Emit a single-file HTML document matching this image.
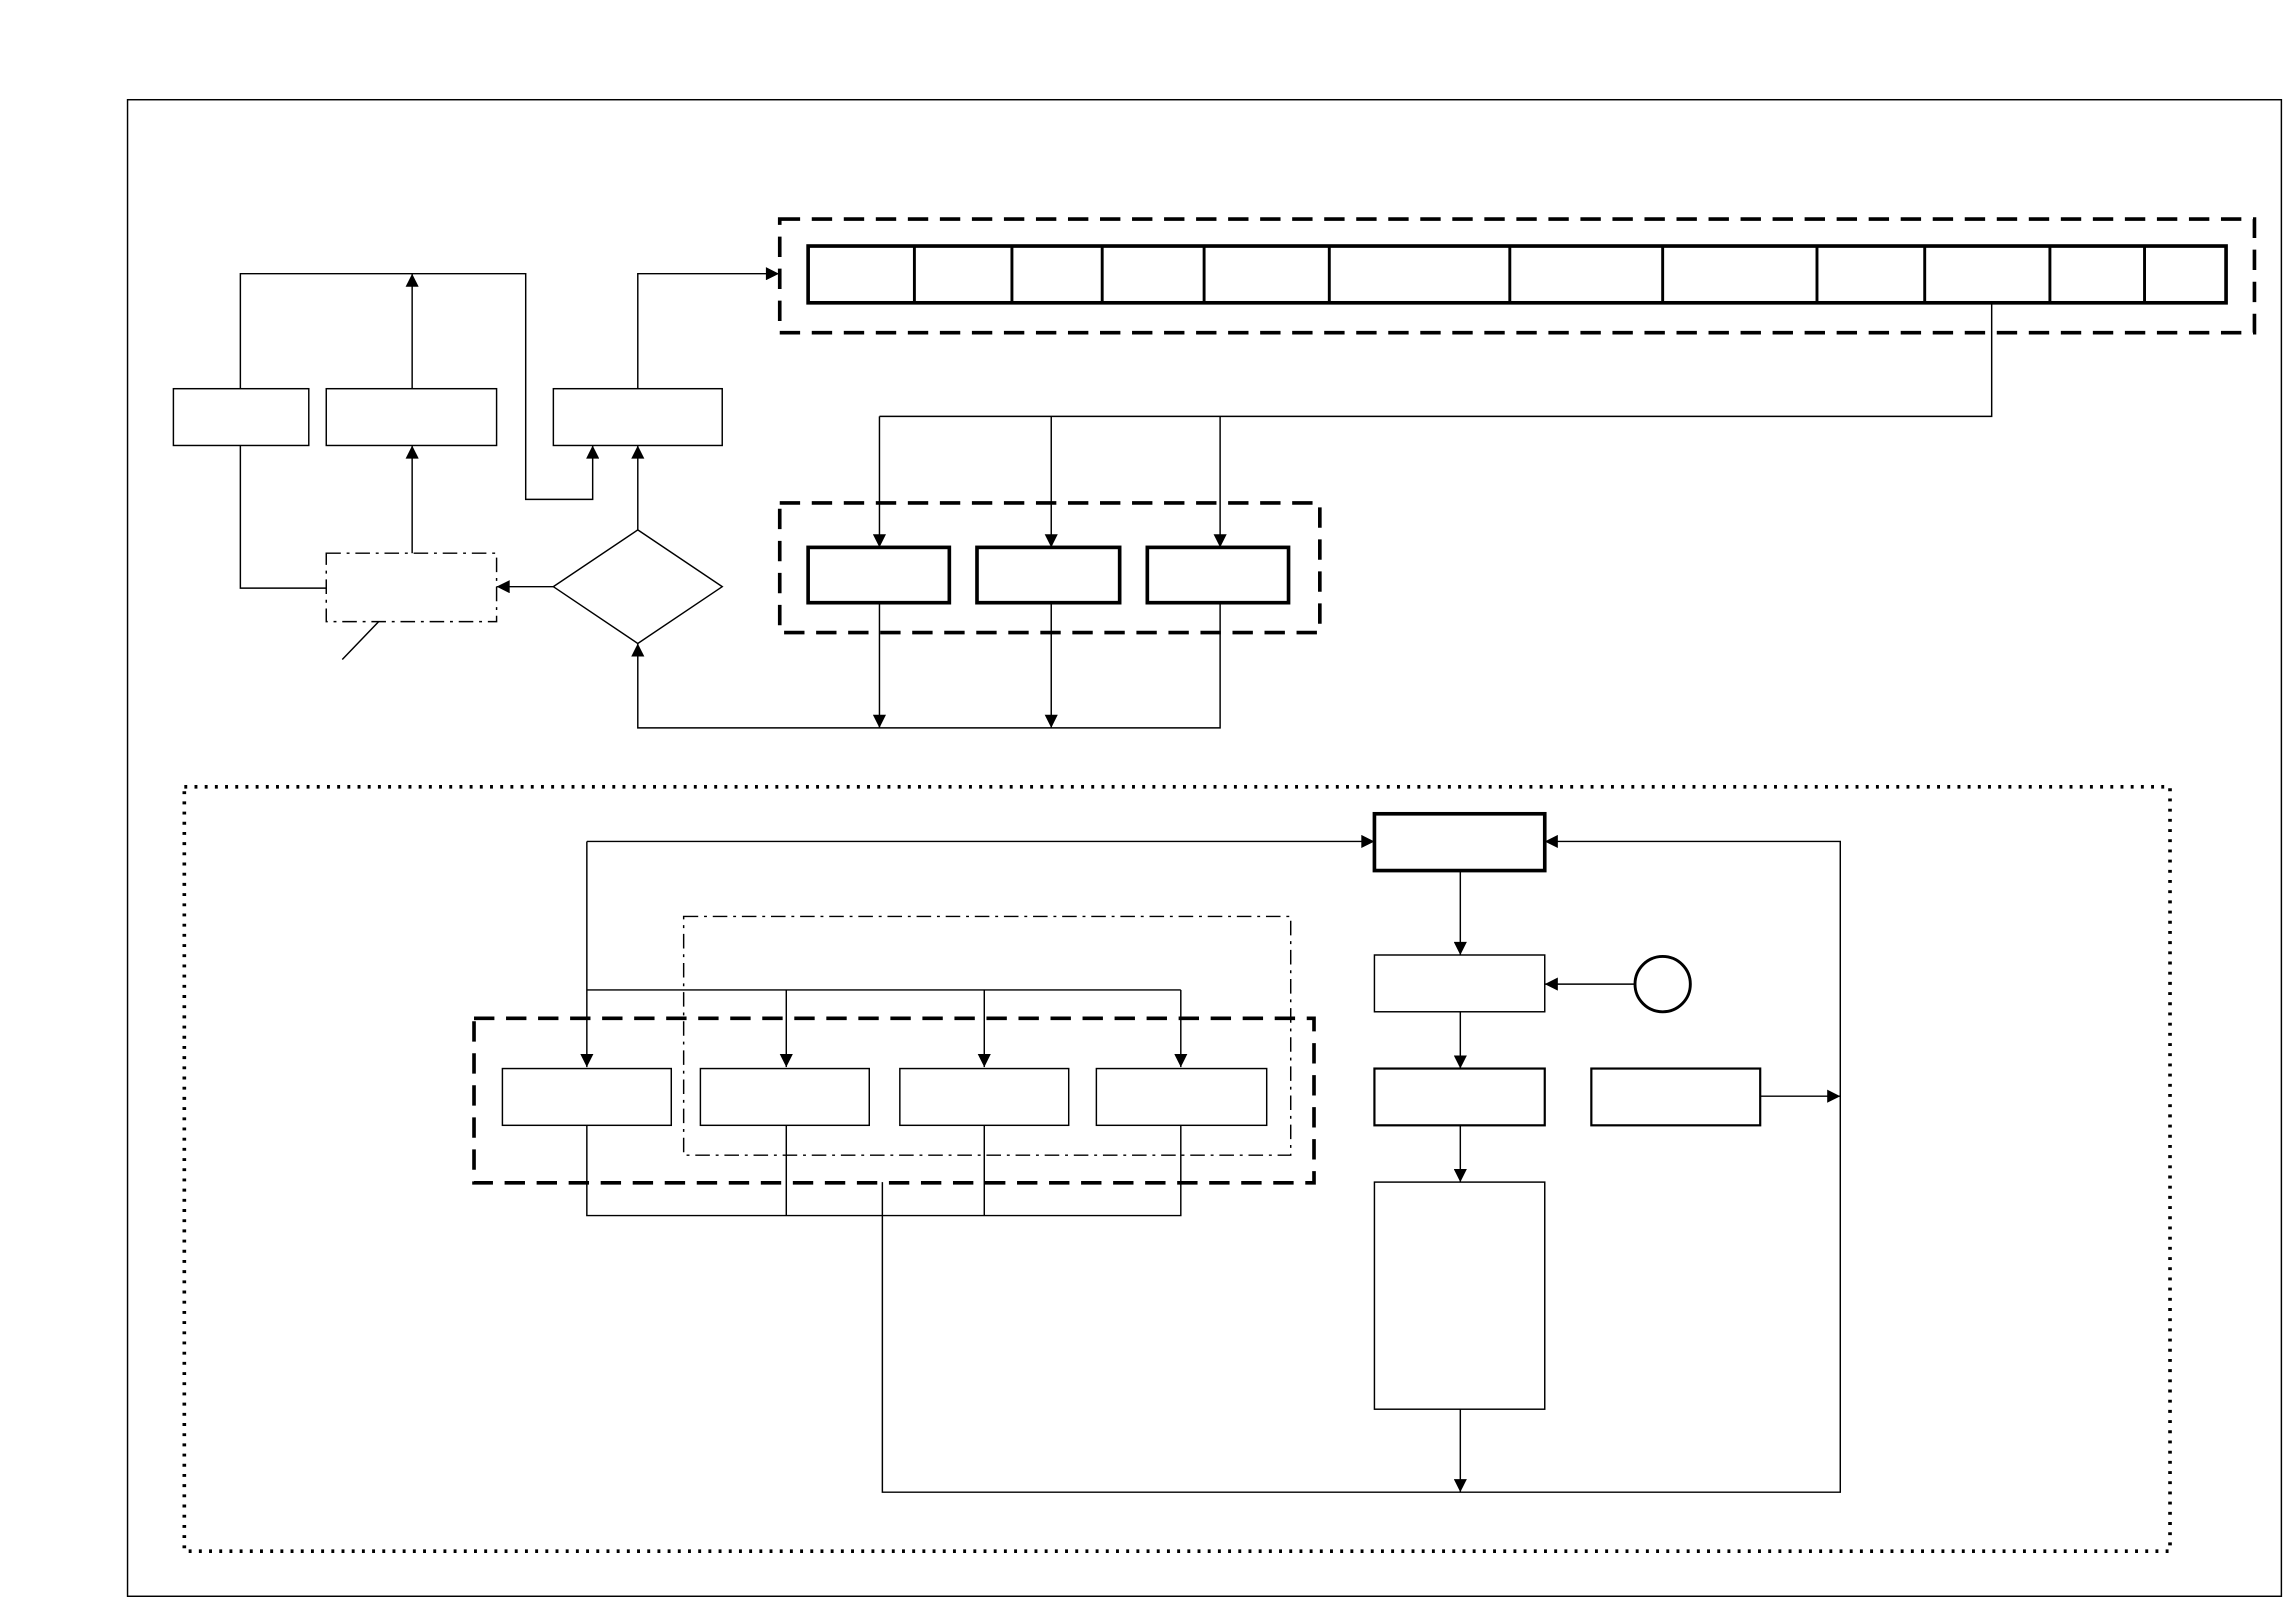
<!DOCTYPE html>
<html><head><meta charset="utf-8"><style>html,body{margin:0;padding:0;background:#fff}svg{display:block}</style></head>
<body>
<svg width="2283" height="1597" viewBox="0 0 1568 1097" xmlns="http://www.w3.org/2000/svg">
<defs><marker id="a" viewBox="0 0 10 10" refX="10" refY="5" markerWidth="14" markerHeight="9" markerUnits="userSpaceOnUse" orient="auto"><path d="M0,0L10,5L0,10z" fill="#000"/></marker></defs>
<g fill="none" stroke="#000" stroke-width="1">
<rect x="87.5" y="68.5" width="1479.5" height="1028"/>
<rect x="535.5" y="150.5" width="1013" height="78" stroke-width="2.5" stroke-dasharray="14,8"/>
<rect x="555" y="169" width="974" height="39" stroke-width="2.5"/>
<path d="M628 169V208M695 169V208M757 169V208M827 169V208M913 169V208M1037 169V208M1142 169V208M1248 169V208M1322 169V208M1408 169V208M1473 169V208" stroke-width="2"/>
<path d="M1368 208V286H604"/>
<path d="M604 286V376" marker-end="url(#a)"/>
<path d="M722 286V376" marker-end="url(#a)"/>
<path d="M838 286V376" marker-end="url(#a)"/>
<rect x="535.5" y="345.5" width="371" height="89" stroke-width="2.5" stroke-dasharray="14,8"/>
<rect x="555" y="376" width="97" height="38" stroke-width="2.5"/>
<rect x="671" y="376" width="98" height="38" stroke-width="2.5"/>
<rect x="788" y="376" width="97" height="38" stroke-width="2.5"/>
<path d="M604 414V500" marker-end="url(#a)"/>
<path d="M722 414V500" marker-end="url(#a)"/>
<path d="M838 414V500H438V442" marker-end="url(#a)"/>
<path d="M438 364L496 403L438 442L380 403Z"/>
<path d="M438 364V306" marker-end="url(#a)"/>
<rect x="380" y="267" width="116" height="39"/>
<path d="M438 267V188H535" marker-end="url(#a)"/>
<path d="M380 403H341" marker-end="url(#a)"/>
<rect x="224" y="380" width="117" height="47" stroke-dasharray="10,4,2,4"/>
<path d="M283 380V306" marker-end="url(#a)"/>
<rect x="224" y="267" width="117" height="39"/>
<path d="M283 267V188" marker-end="url(#a)"/>
<path d="M165 267V188H361V343H407V306" marker-end="url(#a)"/>
<rect x="119" y="267" width="93" height="39"/>
<path d="M165 306V404H224"/>
<path d="M260 427L235 453"/>
<rect x="126.5" y="540.5" width="1364" height="525" stroke-width="2.5" stroke-dasharray="2,5"/>
<rect x="944" y="559" width="117" height="39" stroke-width="2.5"/>
<path d="M403 578H944" marker-end="url(#a)"/>
<path d="M403 578V733" marker-end="url(#a)"/>
<path d="M403 680H811"/>
<path d="M540 680V733" marker-end="url(#a)"/>
<path d="M676 680V733" marker-end="url(#a)"/>
<path d="M811 680V733" marker-end="url(#a)"/>
<rect x="469.5" y="629.5" width="417" height="164" stroke-dasharray="10,4,2,4"/>
<rect x="325.5" y="699.5" width="577" height="113" stroke-width="2.5" stroke-dasharray="14,8"/>
<rect x="345" y="734" width="116" height="39"/>
<rect x="481" y="734" width="116" height="39"/>
<rect x="618" y="734" width="116" height="39"/>
<rect x="753" y="734" width="117" height="39"/>
<path d="M403 773V835H811V773M540 773V835M676 773V835"/>
<path d="M606 812V1025H1264V578H1061" marker-end="url(#a)"/>
<path d="M1003 598V656" marker-end="url(#a)"/>
<rect x="944" y="656" width="117" height="39"/>
<circle cx="1142" cy="676" r="19" stroke-width="2"/>
<path d="M1123 676H1061" marker-end="url(#a)"/>
<path d="M1003 695V734" marker-end="url(#a)"/>
<rect x="944" y="734" width="117" height="39" stroke-width="1.5"/>
<rect x="1093" y="734" width="116" height="39" stroke-width="1.5"/>
<path d="M1209 753H1264" marker-end="url(#a)"/>
<path d="M1003 773V812" marker-end="url(#a)"/>
<rect x="944" y="812" width="117" height="156"/>
<path d="M1003 968V1025" marker-end="url(#a)"/>
</g>
</svg>
</body></html>
